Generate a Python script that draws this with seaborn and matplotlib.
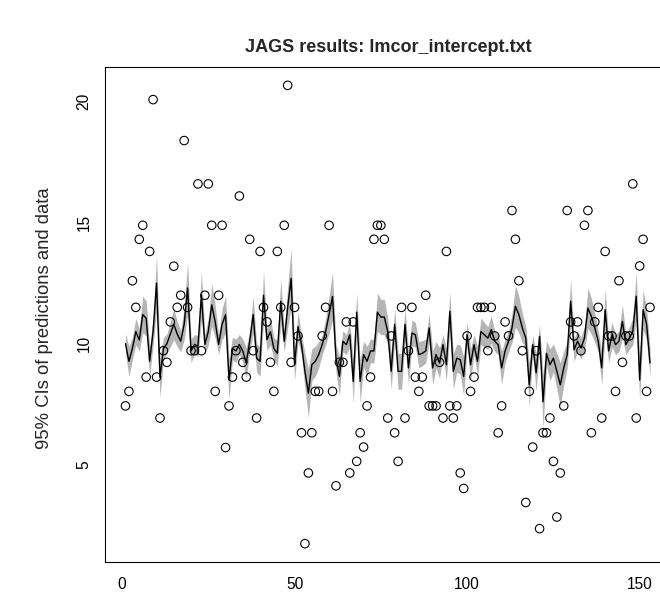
import numpy as np
import pandas as pd
import matplotlib
matplotlib.use("Agg")
import matplotlib.pyplot as plt
import seaborn as sns

obs_y = [7.43, 8.03, 12.6, 11.5, 14.31, 14.89, 8.62, 13.81, 20.08, 8.62,
         6.93, 9.71, 9.23, 10.9, 13.2, 11.5, 12.0, 18.39, 11.5, 9.71,
         9.71, 16.6, 9.71, 12.0, 16.6, 14.89, 8.03, 12.0, 14.89, 5.71,
         7.43, 8.62, 9.71, 16.1, 9.23, 8.62, 14.31, 9.71, 6.93, 13.81,
         11.5, 10.9, 9.23, 8.03, 13.81, 11.5, 14.89, 20.67, 9.23, 11.5,
         10.32, 6.32, 1.74, 4.66, 6.32, 8.03, 8.03, 10.32, 11.5, 14.89,
         8.03, 4.13, 9.23, 9.23, 10.9, 4.66, 10.9, 5.14, 6.32, 5.73,
         7.43, 8.62, 14.31, 14.89, 14.89, 14.31, 6.93, 10.32, 6.32, 5.14,
         11.5, 6.93, 9.71, 11.5, 8.62, 8.03, 8.62, 12.0, 7.43, 7.43,
         7.43, 9.23, 6.93, 13.81, 7.43, 6.93, 7.43, 4.66, 4.02, 10.32,
         8.03, 8.62, 11.5, 11.5, 11.5, 9.71, 11.5, 10.32, 6.32, 7.43,
         10.9, 10.32, 15.5, 14.31, 12.6, 9.71, 3.44, 8.03, 5.73, 9.71,
         2.36, 6.32, 6.32, 6.93, 5.14, 2.84, 4.66, 7.43, 15.5, 10.9,
         10.32, 10.9, 9.71, 14.89, 15.5, 6.32, 10.9, 11.5, 6.93, 13.81,
         10.32, 10.32, 8.03, 12.6, 9.23, 10.32, 10.32, 16.6, 6.93, 13.21,
         14.31, 8.03, 11.5]

pred_mean = [10.0, 9.27, 9.8, 10.5, 10.15, 11.2, 11.05, 9.27, 10.5, 12.5,
             8.6, 9.8, 10.0, 10.4, 10.8, 10.4, 10.1, 10.8, 12.3, 9.7,
             9.97, 9.9, 12.0, 9.97, 10.5, 11.6, 10.9, 9.97, 10.8, 11.2,
             8.5, 9.8, 9.7, 9.97, 9.7, 9.2, 10.1, 11.2, 9.4, 9.27,
             12.0, 10.17, 10.5, 9.8, 9.6, 11.75, 10.1, 11.5, 12.7, 9.13,
             10.7, 9.96, 8.86, 7.96, 9.13, 9.27, 9.55, 9.96, 10.5, 11.2,
             11.95, 9.4, 8.65, 10.1, 9.96, 10.37, 8.44, 11.3, 8.44, 9.55,
             9.27, 9.7, 9.7, 11.3, 11.1, 11.1, 10.5, 8.86, 10.8, 8.86,
             8.86, 10.8, 9.0, 10.44, 10.37, 9.55, 9.6, 9.7, 10.65, 9.0,
             9.55, 9.2, 9.96, 9.13, 11.34, 8.86, 9.4, 9.34, 8.65, 10.37,
             9.13, 9.96, 9.27, 10.5, 10.37, 10.23, 10.58, 10.1, 9.96, 9.0,
             9.7, 10.1, 10.65, 11.54, 11.2, 10.65, 10.23, 8.3, 9.96, 8.8,
             10.3, 7.6, 9.6, 9.13, 9.4, 8.86, 8.3, 9.0, 9.55, 11.75,
             9.75, 10.1, 9.82, 10.23, 11.47, 11.13, 10.65, 10.1, 9.0, 11.4,
             9.7, 10.37, 9.96, 10.1, 10.92, 9.96, 10.23, 10.5, 11.96, 8.5,
             11.4, 10.8, 9.2]

ci_half = [0.40, 0.62, 0.46, 0.55, 0.45, 0.76, 0.72, 0.62, 0.55, 1.15,
           0.82, 0.46, 0.40, 0.52, 0.64, 0.52, 0.43, 0.64, 1.09, 0.49,
           0.41, 0.43, 1.00, 0.41, 0.55, 0.88, 0.67, 0.41, 0.64, 0.76,
           0.85, 0.46, 0.49, 0.41, 0.49, 0.64, 0.43, 0.76, 0.58, 0.62,
           1.00, 0.45, 0.55, 0.46, 0.52, 0.93, 0.43, 0.85, 1.21, 0.66,
           0.61, 0.41, 0.74, 1.01, 0.66, 0.62, 0.54, 0.41, 0.55, 0.76,
           0.99, 0.58, 0.81, 0.43, 0.41, 0.51, 0.87, 0.79, 0.87, 0.54,
           0.62, 0.49, 0.49, 0.79, 0.73, 0.73, 0.55, 0.74, 0.64, 0.74,
           0.74, 0.64, 0.70, 0.53, 0.51, 0.54, 0.52, 0.49, 0.60, 0.70,
           0.54, 0.64, 0.41, 0.66, 0.80, 0.74, 0.58, 0.60, 0.81, 0.51,
           0.66, 0.41, 0.62, 0.55, 0.51, 0.47, 0.57, 0.43, 0.41, 0.70,
           0.49, 0.43, 0.60, 0.86, 0.76, 0.60, 0.47, 0.91, 0.41, 0.76,
           0.49, 1.12, 0.52, 0.66, 0.58, 0.74, 0.91, 0.70, 0.54, 0.93,
           0.48, 0.43, 0.45, 0.47, 0.84, 0.74, 0.60, 0.43, 0.70, 0.82,
           0.49, 0.51, 0.41, 0.43, 0.68, 0.41, 0.47, 0.55, 0.99, 0.85,
           0.82, 0.64, 0.64]

x_ticks = [0, 50, 100, 150]
y_ticks = [5, 10, 15, 20]
title_text = "JAGS results: lmcor_intercept.txt"
ylabel_text = "95% CIs of predictions and data"

idx = np.arange(1, len(obs_y) + 1)
df = pd.DataFrame({"idx": idx, "obs": obs_y, "mean": pred_mean,
                   "lo": np.array(pred_mean) - np.array(ci_half),
                   "hi": np.array(pred_mean) + np.array(ci_half)})

sns.set_style("white")
plt.rcParams["font.family"] = ["Liberation Sans", "DejaVu Sans"]

W, H = 660, 608
fig = plt.figure(figsize=(W / 72, H / 72), dpi=72)
ax = fig.add_axes([104.5 / W, (H - 562) / H, (671 - 104.5) / W, (562 - 67) / H])

ax.fill_between(df["idx"], df["lo"], df["hi"], color="#b5b5b5", linewidth=0, zorder=1)
sns.lineplot(data=df, x="idx", y="mean", ax=ax, color="black", linewidth=1.4, zorder=2)
sns.scatterplot(data=df, x="idx", y="obs", ax=ax, marker="o", s=72,
                facecolors="none", edgecolor="black", linewidth=1.1, zorder=3)

n = len(obs_y)
xr = n - 1
ax.set_xlim(1 - 0.04 * xr, n + 0.04 * xr)
ymin, ymax = min(obs_y), max(obs_y)
yr = ymax - ymin
ax.set_ylim(ymin - 0.04 * yr, ymax + 0.04 * yr)

ax.set_xticks(x_ticks)
ax.set_xticklabels([str(t) for t in x_ticks])
ax.set_yticks(y_ticks)
ax.set_yticklabels([str(t) for t in y_ticks], rotation=90, va="center")
ax.tick_params(axis="both", direction="out", length=9, width=1.1, colors="black",
               labelsize=15.5)
ax.tick_params(axis="x", pad=6)
ax.tick_params(axis="y", pad=4)
for s in ax.spines.values():
    s.set_color("black")
    s.set_linewidth(1.1)
    s.set_visible(True)
ax.set_xlabel("")
ax.set_ylabel("")
fig.text(45 / W, 1 - 318 / H, ylabel_text, ha="center", va="center",
         rotation=90, fontsize=18.5)
fig.text(388 / W, 1 - 47 / H, title_text, ha="center", va="center",
         fontsize=18, fontweight="bold")

fig.savefig("out.png", dpi=72)
